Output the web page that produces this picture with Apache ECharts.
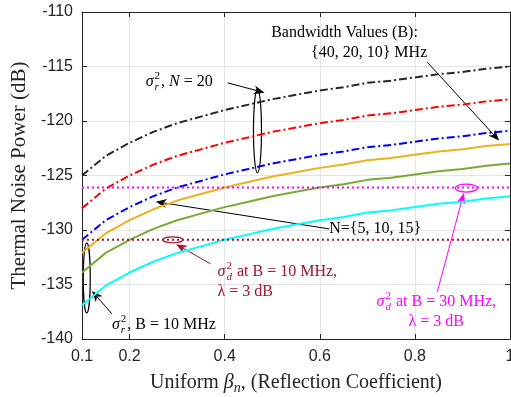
<!DOCTYPE html>
<html>
<head>
<meta charset="utf-8">
<script src="https://cdn.jsdelivr.net/npm/echarts@6/dist/echarts.min.js"></script>
<style>
  html, body { margin: 0; padding: 0; background: #fff; }
  #chart { width: 511px; height: 397px; }
</style>
</head>
<body>
<div id="chart"></div>
<script>
// reflection coefficient samples
const beta = [0.1, 0.15, 0.2, 0.25, 0.3, 0.35, 0.4, 0.45, 0.5, 0.55, 0.6, 0.65, 0.7, 0.75, 0.8, 0.85, 0.9, 0.95, 1.0]
// N = 20, B = 40 / 20 / 10 MHz
const noiseB40 = [-125, -123.2, -122, -121, -120.2, -119.6, -119, -118.5, -118, -117.6, -117.2, -116.9, -116.5, -116.3, -116, -115.7, -115.5, -115.2, -115]
const noiseB20 = [-128, -126.2, -125, -124, -123.2, -122.6, -122, -121.5, -121, -120.6, -120.2, -119.9, -119.5, -119.3, -119, -118.7, -118.5, -118.2, -118]
const noiseB10 = [-130.9, -129.1, -127.9, -126.9, -126.1, -125.5, -124.9, -124.4, -123.9, -123.5, -123.1, -122.8, -122.4, -122.2, -121.9, -121.6, -121.4, -121.1, -120.9]
// B = 10 MHz, N = 15 / 10 / 5
const noiseN15 = [-132.1, -130.3, -129.1, -128.1, -127.3, -126.7, -126.1, -125.6, -125.1, -124.7, -124.3, -124, -123.6, -123.4, -123.1, -122.8, -122.6, -122.3, -122.1]
const noiseN10 = [-133.9, -132.1, -130.9, -129.9, -129.1, -128.5, -127.9, -127.4, -126.9, -126.5, -126.1, -125.8, -125.4, -125.2, -124.9, -124.6, -124.4, -124.1, -123.9]
const noiseN5 = [-136.9, -135.1, -133.9, -132.9, -132.1, -131.5, -130.9, -130.4, -129.9, -129.5, -129.1, -128.8, -128.4, -128.2, -127.9, -127.6, -127.4, -127.1, -126.9]
// sigma_d^2 levels
const sigmaD30 = -126.1
const sigmaD10 = -130.9
const xTicks = [0.1, 0.2, 0.4, 0.6, 0.8, 1]

const chart = echarts.init(document.getElementById('chart'))
const axisColor = '#262626'
const serif = '"Liberation Serif", serif'

const pairs = (ys) => beta.map((b, i) => [b, ys[i]])
const flat = (v) => [[0.1, v], [1, v]]

const curve = (data, color, dash) => ({
  type: 'line',
  data: pairs(data),
  showSymbol: false,
  silent: true,
  lineStyle: { color: color, width: 2, type: dash || 'solid' }
})

const option = {
  animation: false,
  grid: { left: 82, right: 1, top: 12, bottom: 58, outerBoundsMode: 'none' },
  xAxis: [
    {
      type: 'value', min: 0.1, max: 1,
      axisLine: { lineStyle: { color: axisColor } },
      axisTick: { inside: true, length: 5, customValues: xTicks, lineStyle: { color: axisColor } },
      axisLabel: {
        customValues: xTicks, color: axisColor, fontSize: 16, fontFamily: '"Liberation Sans"', margin: 10,
        formatter: (v) => String(Math.round(v * 10) / 10)
      },
      splitLine: { show: true, lineStyle: { color: '#e3e3e3' } },
      name: '{r|Uniform }{i|β}{s|n}{r|, (Reflection Coefficient)}',
      nameLocation: 'middle',
      nameGap: 32,
      nameTextStyle: {
        rich: {
          r: { fontFamily: serif, fontSize: 20, color: axisColor, lineHeight: 24 },
          i: { fontFamily: serif, fontSize: 20, fontStyle: 'italic', color: axisColor, lineHeight: 24 },
          s: { fontFamily: serif, fontSize: 14, fontStyle: 'italic', color: axisColor, lineHeight: 14, verticalAlign: 'bottom' }
        }
      }
    },
    {
      type: 'value', min: 0.1, max: 1, position: 'top',
      axisLine: { lineStyle: { color: axisColor } },
      axisTick: { inside: true, length: 5, customValues: xTicks, lineStyle: { color: axisColor } },
      axisLabel: { show: false, customValues: xTicks },
      splitLine: { show: false }
    }
  ],
  yAxis: [
    {
      type: 'value', min: -140, max: -110, interval: 5,
      axisLine: { show: true, lineStyle: { color: axisColor } },
      axisTick: { show: true, inside: true, length: 5, lineStyle: { color: axisColor } },
      axisLabel: { color: axisColor, fontSize: 16, fontFamily: '"Liberation Sans"', margin: 9 },
      splitLine: { show: true, lineStyle: { color: '#e3e3e3' } },
      name: 'Thermal Noise Power (dB)',
      nameLocation: 'middle',
      nameGap: 50,
      nameTextStyle: { fontFamily: serif, fontSize: 21, color: axisColor }
    },
    {
      type: 'value', min: -140, max: -110, interval: 5, position: 'right',
      axisLine: { show: true, lineStyle: { color: axisColor } },
      axisTick: { show: true, inside: true, length: 5, lineStyle: { color: axisColor } },
      axisLabel: { show: false },
      splitLine: { show: false }
    }
  ],
  series: [
    curve(noiseB40, '#262626', [8, 3, 2, 3]),
    curve(noiseB20, '#ff0000', [8, 3, 2, 3]),
    curve(noiseB10, '#0000ff', [8, 3, 2, 3]),
    curve(noiseN15, '#EDB120'),
    curve(noiseN10, '#77AC30'),
    curve(noiseN5, '#00FFFF'),
    {
      type: 'line', data: flat(sigmaD30), showSymbol: false, silent: true,
      lineStyle: { color: '#ff00ff', width: 2, type: [2, 3] }
    },
    {
      type: 'line', data: flat(sigmaD10), showSymbol: false, silent: true,
      lineStyle: { color: '#A2142F', width: 2, type: [2, 3] }
    }
  ]
}
chart.setOption(option)

// ---- annotations (placed in data coordinates) ----
const ctx = document.createElement('canvas').getContext('2d')
const measure = (t, f) => { ctx.font = f; return ctx.measureText(t).width }
const px = (pt) => chart.convertToPixel({ xAxisIndex: 0, yAxisIndex: 0 }, pt)

const F = '16px ' + serif
const FI = 'italic 16px ' + serif
const FS = '11px ' + serif
const FSI = 'italic 11px ' + serif

function mathText(pt, parts, color, align) {
  const p = px(pt)
  const items = []
  let cx = 0
  parts.forEach((q) => {
    if (q.sup !== undefined) {
      const w1 = measure(q.sup, FS)
      const w2 = measure(q.sub, FSI)
      items.push({ text: q.sup, x: cx + 1, y: -6, font: FS })
      items.push({ text: q.sub, x: cx + 1, y: 5, font: FSI })
      cx += Math.max(w1, w2) + 2
    } else {
      const f = q.i ? FI : F
      items.push({ text: q.t, x: cx, y: 0, font: f })
      cx += measure(q.t, f)
    }
  })
  const off = align === 'center' ? -cx / 2 : align === 'right' ? -cx : 0
  return {
    type: 'group', x: p[0] + off, y: p[1], silent: true,
    children: items.map((it) => ({
      type: 'text', x: it.x, y: it.y,
      style: { text: it.text, font: it.font, fill: color, textVerticalAlign: 'middle' }
    }))
  }
}

function arrow(from, to, color) {
  const a = px(from)
  const b = px(to)
  const ang = Math.atan2(b[1] - a[1], b[0] - a[0])
  const L = 11, W = 4.5
  const back = [b[0] - L * Math.cos(ang), b[1] - L * Math.sin(ang)]
  const notch = [b[0] - L * 0.7 * Math.cos(ang), b[1] - L * 0.7 * Math.sin(ang)]
  const n = [-Math.sin(ang), Math.cos(ang)]
  return [
    { type: 'line', silent: true, shape: { x1: a[0], y1: a[1], x2: notch[0], y2: notch[1] }, style: { stroke: color, lineWidth: 1 } },
    {
      type: 'polygon', silent: true,
      shape: { points: [b, [back[0] + n[0] * W, back[1] + n[1] * W], notch, [back[0] - n[0] * W, back[1] - n[1] * W]] },
      style: { fill: color }
    }
  ]
}

function ring(pt, rx, ry, color) {
  const p = px(pt)
  return { type: 'ellipse', silent: true, shape: { cx: p[0], cy: p[1], rx: rx, ry: ry }, style: { fill: null, stroke: color, lineWidth: 1.2 } }
}

const black = '#000'
const dred = '#A2142F'
const mag = '#ff00ff'

const graphic = [
  ring([0.469, -120.9], 4, 42, black),
  mathText([0.234, -116.4], [{ t: 'σ', i: true }, { sup: '2', sub: 'r' }, { t: ', ' }, { t: 'N', i: true }, { t: ' = 20' }], black, 'left'),
  ...arrow([0.406, -116.5], [0.484, -117.4], black),

  mathText([0.652, -111.9], [{ t: 'Bandwidth Values (B):' }], black, 'center'),
  mathText([0.826, -113.7], [{ t: '{40, 20, 10} MHz' }], black, 'right'),
  ...arrow([0.826, -114.6], [0.977, -121.8], black),

  mathText([0.62, -129.9], [{ t: 'N={5, 10, 15}' }], black, 'left'),
  ...arrow([0.62, -129.9], [0.255, -127.4], black),

  ring([0.291, -130.9], 10, 3, dred),
  ...arrow([0.37, -133.1], [0.298, -131.3], dred),
  mathText([0.385, -133.85], [{ t: 'σ', i: true }, { sup: '2', sub: 'd' }, { t: ' at B = 10 MHz,' }], dred, 'left'),
  mathText([0.385, -135.7], [{ t: 'λ = 3 dB' }], dred, 'left'),

  ring([0.908, -126.15], 11, 4, mag),
  ...arrow([0.847, -135.7], [0.903, -126.6], mag),
  mathText([0.845, -136.6], [{ t: 'σ', i: true }, { sup: '2', sub: 'd' }, { t: ' at B = 30 MHz,' }], mag, 'center'),
  mathText([0.845, -138.45], [{ t: 'λ = 3 dB' }], mag, 'center'),

  ring([0.11, -134.4], 3.5, 35, black),
  ...arrow([0.163, -137.7], [0.121, -135.6], black),
  mathText([0.163, -138.7], [{ t: 'σ', i: true }, { sup: '2', sub: 'r' }, { t: ', B = 10 MHz' }], black, 'left')
]

chart.setOption({ graphic: graphic })
</script>
</body>
</html>
